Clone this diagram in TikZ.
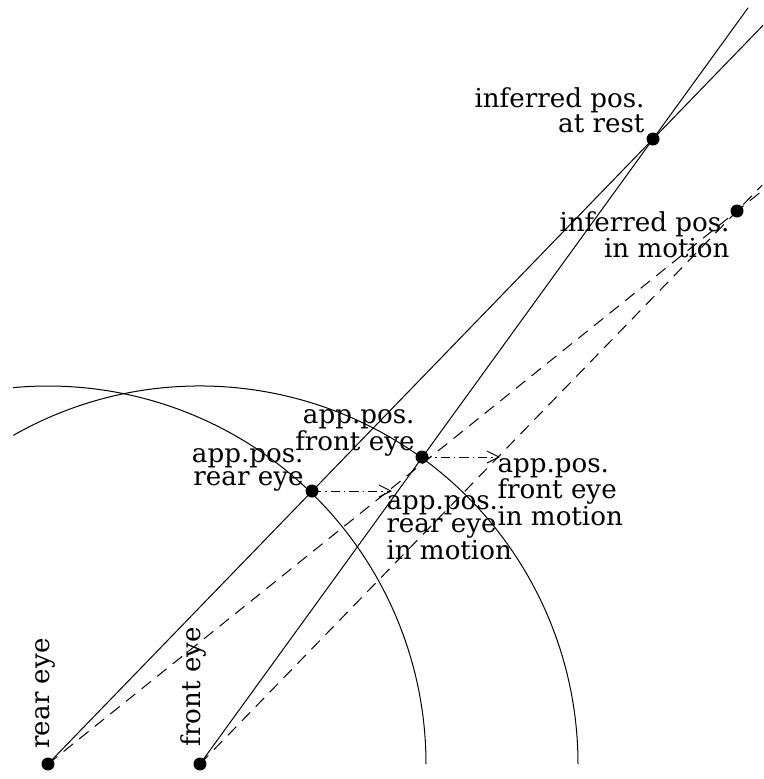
\documentclass[tikz,border=0pt]{standalone}
\usepackage{fontspec}
\setmainfont{DejaVu Serif}
\usetikzlibrary{calc,arrows.meta}

\tikzset{every picture/.style={line width=0.75pt}}
\tikzset{
  eyedot/.style={circle,fill=black,inner sep=0pt,minimum size=9.75pt},
  lbl/.style={inner sep=0pt,font=\fontsize{19.6}{17}\selectfont},
  sight/.style={dash pattern=on 9pt off 6pt},
  shiftarrow/.style={dash pattern=on 7pt off 3pt on 1pt off 3pt,-{Straight Barb[length=9pt,width=9pt]}}
}

\begin{document}
\begin{tikzpicture}[x=0.75pt,y=0.75pt,yscale=-1,xscale=1]
\useasboundingbox (0,0) rectangle (764,779);

%Eyes and positions
\node[eyedot] (reye) at (48,764) {};
\node[eyedot] (feye) at (200,764) {};
\node[eyedot] (rapp) at (312,491) {};
\node[eyedot] (fapp) at (422,457) {};
\node[eyedot] (rest) at (653,139) {};
\node[eyedot] (moving) at (737,211) {};
\coordinate (rmove) at (392,491);
\coordinate (fmove) at (500,457);
\coordinate (rtop) at ($(reye)!1.182!(rest)$);
\coordinate (ftop) at ($(feye)!1.21!(rest)$);
\coordinate (rmtop) at ($(reye)!1.036!(moving)$);
\coordinate (fmtop) at ($(feye)!1.047!(moving)$);

%Arcs round the eyes
\draw (reye.center) ++(-95.3:378) arc (-95.3:0:378);
\draw (feye.center) ++(-119.6:378) arc (-119.6:0:378);

%Lines of sight
\draw (reye.center) -- (rtop);
\draw (feye.center) -- (ftop);
\draw[sight] (reye.center) -- (rmtop);
\draw[sight] (feye.center) -- (fmtop);

%Shift in motion
\draw[shiftarrow] (rapp.center) -- (rmove);
\draw[shiftarrow] (fapp.center) -- (fmove);

% Text Node
\node[lbl,anchor=base east,align=right] (restlbl) at (645,132) {inferred pos.\\at rest};
% Text Node
\node[lbl,anchor=base east,align=right] (movinglbl) at (730,257) {inferred pos.\\in motion};
% Text Node
\node[lbl,anchor=base east,align=right] (fapplbl) at (415,450) {app.pos.\\front eye};
% Text Node
\node[lbl,anchor=base east,align=right] (rapplbl) at (304,485) {app.pos.\\rear eye};
% Text Node
\node[lbl,anchor=base west,align=left] (rmovelbl) at (386,559) {app.pos.\\rear eye\\in motion};
% Text Node
\node[lbl,anchor=base west,align=left] (fmovelbl) at (497,525) {app.pos.\\front eye\\in motion};
% Text Node
\node[lbl,rotate=90,anchor=base west] (reyelbl) at (50,749) {rear eye};
% Text Node
\node[lbl,rotate=90,anchor=base west] (feyelbl) at (200,747) {front eye};

\end{tikzpicture}
\end{document}
